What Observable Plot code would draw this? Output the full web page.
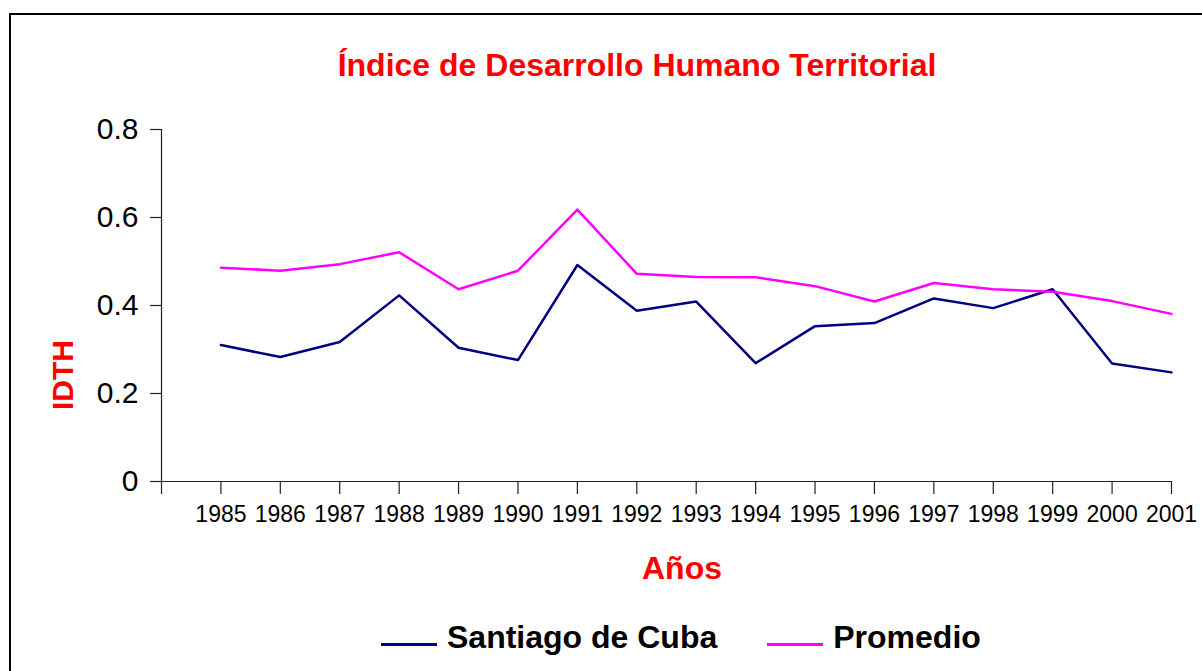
<!DOCTYPE html>
<html>
<head>
<meta charset="utf-8">
<script src="https://cdn.jsdelivr.net/npm/d3@7"></script>
<script src="https://cdn.jsdelivr.net/npm/@observablehq/plot@0.6"></script>
<style>
  html, body { margin: 0; padding: 0; background: #fff; }
  body { width: 1202px; height: 671px; overflow: hidden; position: relative;
         font-family: "Liberation Sans", Arial, sans-serif; }
  #frame { position: absolute; left: 9px; top: 13px; width: 1400px; height: 900px;
           border: 2px solid #000; box-sizing: border-box; }
  #title { position: absolute; left: 0; width: 1274px; top: 49px; text-align: center;
           font-weight: bold; font-size: 32px; line-height: 32px; color: #ff0000; white-space: nowrap; }
  #xlabel { position: absolute; left: 682px; top: 552px; transform: translateX(-50%);
            font-weight: bold; font-size: 32px; line-height: 32px; color: #ff0000; white-space: nowrap; }
  #ylabel { position: absolute; left: 63px; top: 375px; transform: translate(-50%, -50%) rotate(-90deg);
            font-weight: bold; font-size: 30px; line-height: 30px; color: #ff0000; white-space: nowrap; }
  #chart svg { position: absolute; left: 0; top: 0; }
  #legend { position: absolute; left: 381px; top: 621px; display: flex; align-items: center;
            font-weight: bold; font-size: 32px; line-height: 32px; color: #000; white-space: nowrap; }
  .item { display: flex; align-items: center; margin-right: 50px; }
  .swatch { width: 56px; height: 0; border-top: 3px solid; margin-right: 10px; margin-top: 14px; }
</style>
</head>
<body>
<div id="frame"></div>
<div id="title">Índice de Desarrollo Humano Territorial</div>
<div id="chart"></div>
<div id="ylabel">IDTH</div>
<div id="xlabel">Años</div>
<div id="legend"></div>
<script>
const years = [1985, 1986, 1987, 1988, 1989, 1990, 1991, 1992, 1993, 1994, 1995, 1996, 1997, 1998, 1999, 2000, 2001];
const santiago = [0.310, 0.283, 0.317, 0.423, 0.304, 0.276, 0.492, 0.388, 0.409, 0.269, 0.353, 0.360, 0.416, 0.394, 0.437, 0.268, 0.248];
const promedio = [0.486, 0.479, 0.494, 0.521, 0.437, 0.479, 0.618, 0.472, 0.465, 0.464, 0.444, 0.409, 0.451, 0.437, 0.431, 0.410, 0.381];
const seriesNames = ["Santiago de Cuba", "Promedio"];
const seriesColors = ["#000080", "#ff00ff"];
const yTicks = [0, 0.2, 0.4, 0.6, 0.8];
const xStart = 1984;
const xTicks = [xStart, ...years];

const rows = years.flatMap((yr, i) => [
  {year: yr, value: santiago[i], serie: seriesNames[0]},
  {year: yr, value: promedio[i], serie: seriesNames[1]}
]);

const chart = Plot.plot({
  width: 1202,
  height: 600,
  marginLeft: 161,
  marginRight: 31,
  marginTop: 129,
  marginBottom: 119,
  style: {fontFamily: "'Liberation Sans', Arial, sans-serif", background: "transparent", color: "#000", overflow: "visible"},
  x: {type: "linear", domain: [xStart, years[years.length - 1]]},
  y: {domain: [0, 0.8]},
  color: {domain: seriesNames, range: seriesColors},
  marks: [
    Plot.axisY({ticks: yTicks, tickSize: 11, tickPadding: 12, fontSize: 30, label: null,
                tickFormat: d => d === 0 ? "0" : d.toFixed(1), stroke: "#222", strokeWidth: 1.2}),
    Plot.axisX({ticks: xTicks, tickSize: 13, tickPadding: 11, fontSize: 23, label: null,
                tickFormat: d => d === xStart ? "" : String(d), stroke: "#222", strokeWidth: 1.2}),
    Plot.ruleX([xStart], {stroke: "#222", strokeWidth: 1.2}),
    Plot.ruleY([0], {stroke: "#222", strokeWidth: 1.2}),
    Plot.line(rows, {x: "year", y: "value", z: "serie", stroke: "serie", strokeWidth: 2.5})
  ]
});
document.getElementById("chart").appendChild(chart);

const legend = document.getElementById("legend");
seriesNames.forEach((name, i) => {
  const item = document.createElement("div");
  item.className = "item";
  const sw = document.createElement("div");
  sw.className = "swatch";
  sw.style.borderTopColor = seriesColors[i];
  const label = document.createElement("span");
  label.textContent = name;
  item.appendChild(sw);
  item.appendChild(label);
  legend.appendChild(item);
});
</script>
</body>
</html>
